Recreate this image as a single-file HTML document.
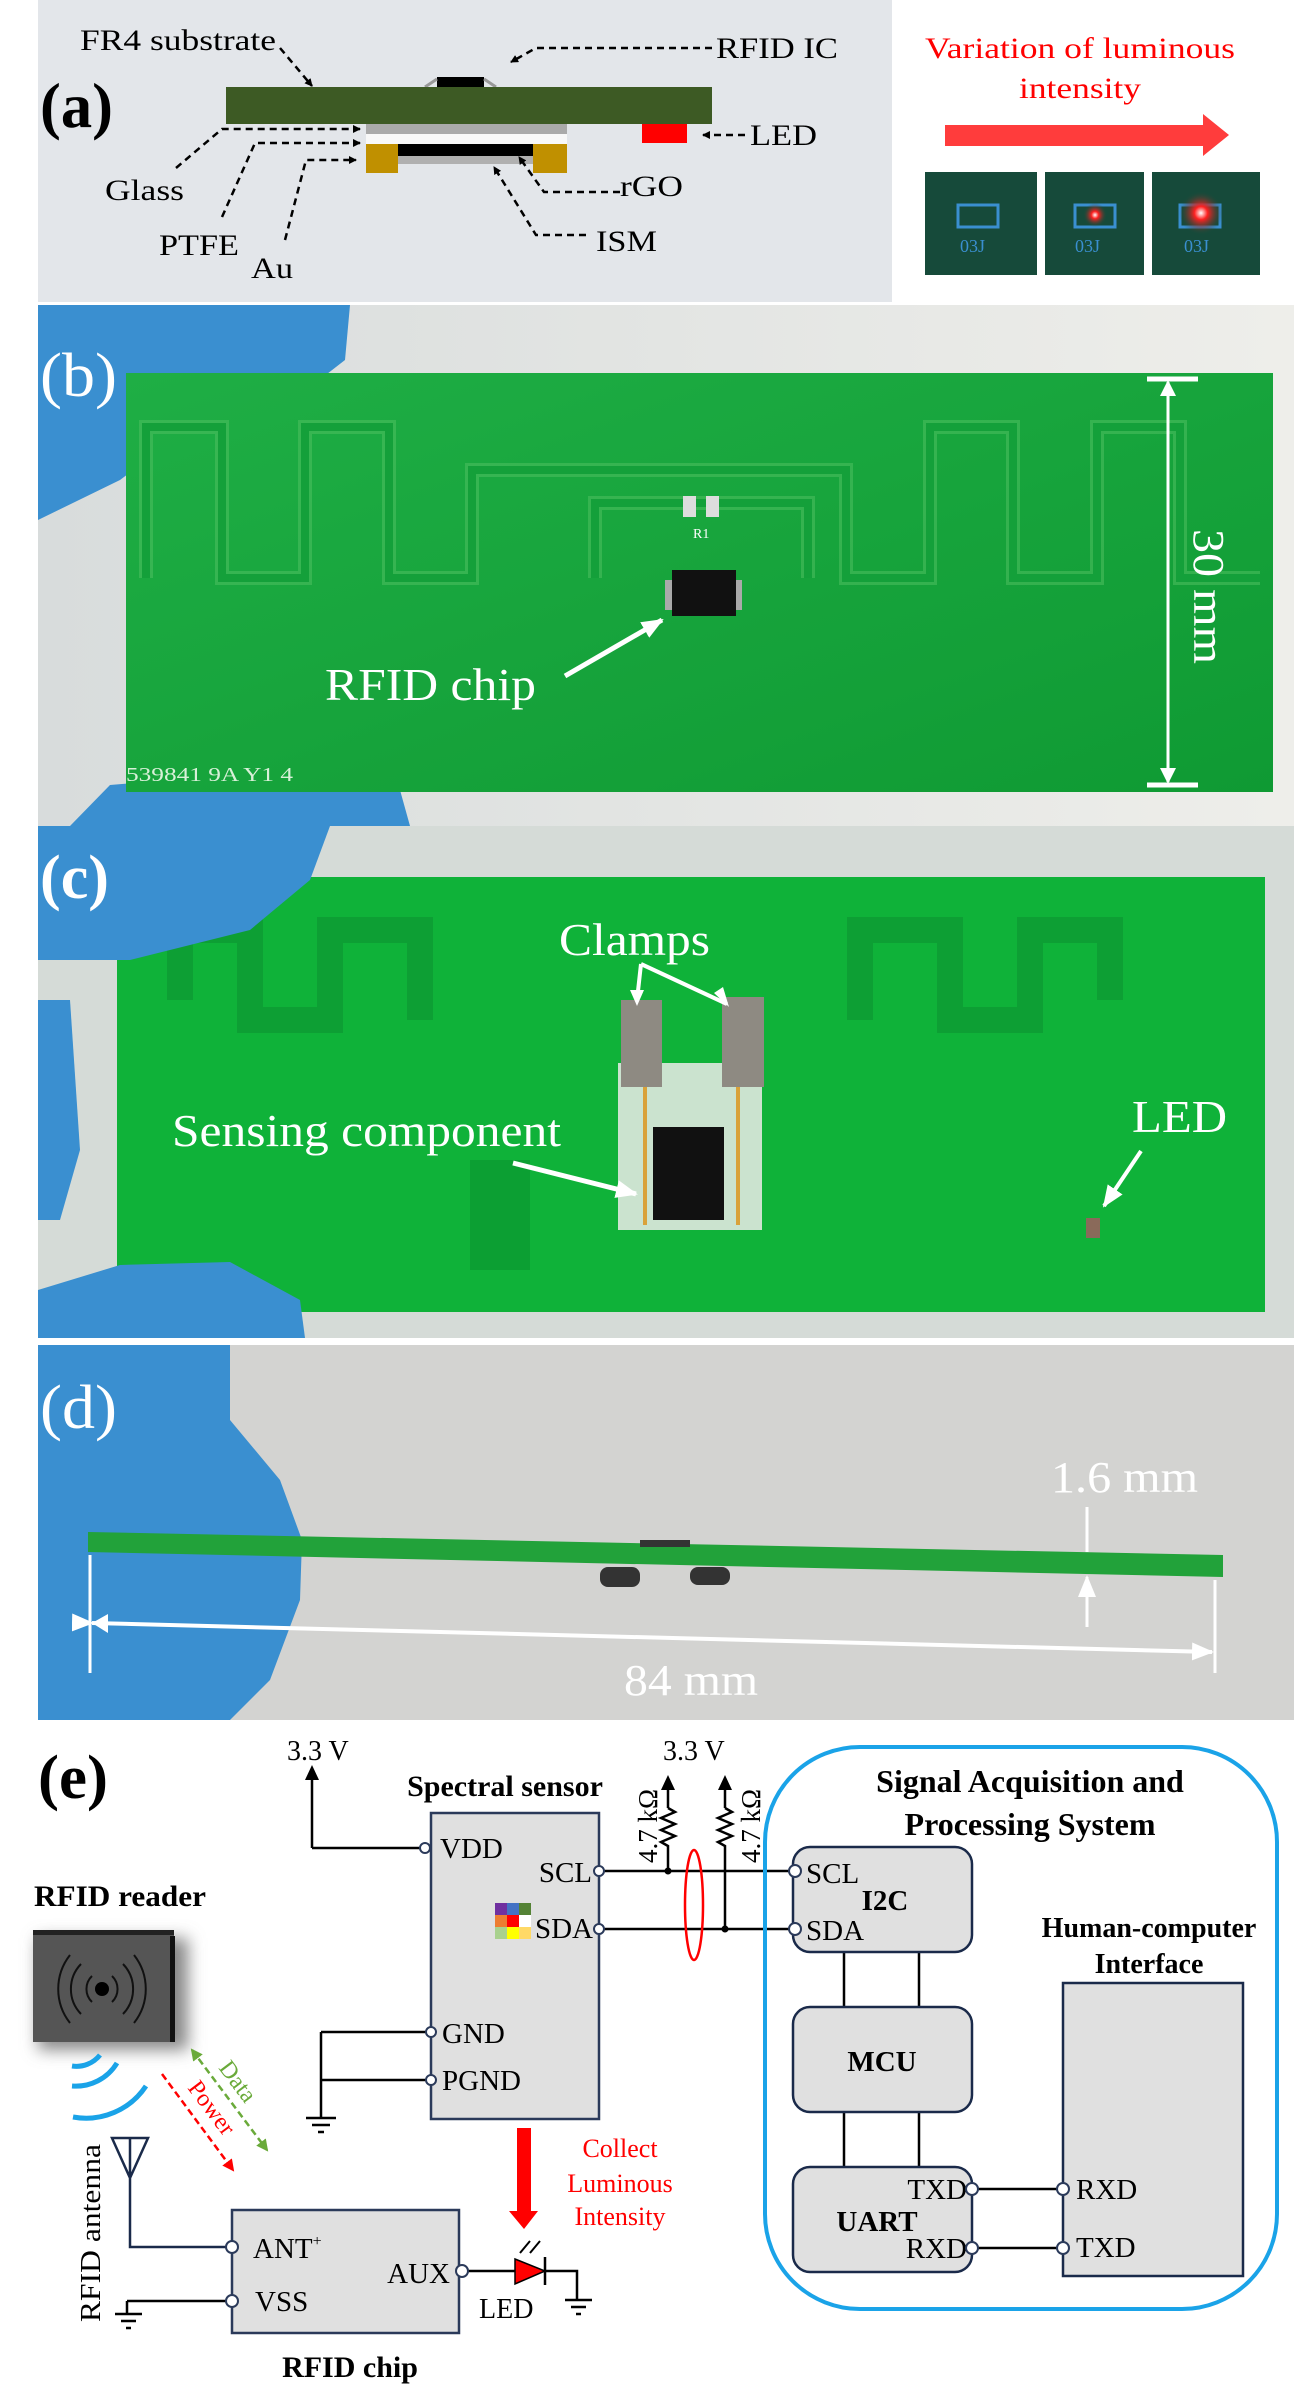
<!DOCTYPE html>
<html><head><meta charset="utf-8"><style>
html,body{margin:0;padding:0;background:#fff}
svg{display:block}
text{font-family:"Liberation Serif",serif}
</style></head><body>
<svg width="1294" height="2398" viewBox="0 0 1294 2398" xmlns="http://www.w3.org/2000/svg">
<defs>
<marker id="ab" markerWidth="8" markerHeight="8" refX="7" refY="4" orient="auto" markerUnits="userSpaceOnUse"><path d="M0,0 L8,4 L0,8 Z" fill="#000"/></marker>
<marker id="aw" markerWidth="22" markerHeight="18" refX="20" refY="9" orient="auto" markerUnits="userSpaceOnUse"><path d="M0,0 L22,9 L0,18 Z" fill="#fff"/></marker>
<marker id="ag" markerWidth="12" markerHeight="12" refX="10" refY="6" orient="auto" markerUnits="userSpaceOnUse"><path d="M0,0 L12,6 L0,12 Z" fill="#6aaa3a"/></marker>
<marker id="agr" markerWidth="12" markerHeight="12" refX="2" refY="6" orient="auto" markerUnits="userSpaceOnUse"><path d="M12,0 L0,6 L12,12 Z" fill="#6aaa3a"/></marker>
<marker id="ar" markerWidth="12" markerHeight="12" refX="10" refY="6" orient="auto" markerUnits="userSpaceOnUse"><path d="M0,0 L12,6 L0,12 Z" fill="#f00"/></marker>
<linearGradient id="gb" x1="0" y1="0" x2="1" y2="1"><stop offset="0" stop-color="#1fae45"/><stop offset="1" stop-color="#0f9a33"/></linearGradient>
<linearGradient id="bgb" x1="0" y1="0" x2="1" y2="0"><stop offset="0" stop-color="#d8dcdc"/><stop offset="1" stop-color="#eeeeea"/></linearGradient>
<radialGradient id="led2"><stop offset="0" stop-color="#fff"/><stop offset="0.3" stop-color="#ff2020"/><stop offset="1" stop-color="#164a3a" stop-opacity="0"/></radialGradient>
<filter id="sh" x="-30%" y="-30%" width="160%" height="160%"><feGaussianBlur stdDeviation="8"/></filter>
</defs>

<!-- ========== (a) ========== -->
<rect x="38" y="0" width="854" height="302" fill="#e3e6ea"/>
<text x="40" y="127" font-size="64" font-weight="bold" textLength="73" lengthAdjust="spacingAndGlyphs">(a)</text>
<text x="80" y="50" font-size="30" textLength="196" lengthAdjust="spacingAndGlyphs">FR4 substrate</text>
<path d="M280,48 L312,86" stroke="#000" stroke-width="2.5" stroke-dasharray="7,5" fill="none" marker-end="url(#ab)"/>
<rect x="437" y="77" width="47" height="10" fill="#000"/>
<path d="M425,87 L437,79 M484,79 L496,87" stroke="#999" stroke-width="3"/>
<rect x="226" y="87" width="486" height="37" fill="#3d5a24"/>
<text x="716" y="58" font-size="30" textLength="122" lengthAdjust="spacingAndGlyphs">RFID IC</text>
<path d="M712,48 L536,48 L511,62" stroke="#000" stroke-width="2.5" stroke-dasharray="7,5" fill="none" marker-end="url(#ab)"/>
<rect x="642" y="124" width="45" height="19" fill="#f00"/>
<text x="750" y="145" font-size="30" textLength="67" lengthAdjust="spacingAndGlyphs">LED</text>
<path d="M745,135 L703,135" stroke="#000" stroke-width="2.5" stroke-dasharray="7,5" marker-end="url(#ab)"/>
<rect x="366" y="124" width="201" height="10" fill="#aaa"/>
<rect x="366" y="134" width="201" height="10" fill="#f8f8f8"/>
<rect x="366" y="144" width="32" height="29" fill="#c09000"/>
<rect x="533" y="144" width="34" height="29" fill="#c09000"/>
<rect x="398" y="144" width="135" height="12" fill="#000"/>
<rect x="398" y="156" width="135" height="8" fill="#b0b0b0"/>
<g stroke="#000" stroke-width="2.5" stroke-dasharray="7,5" fill="none">
<path d="M176,168 L222,129 L360,129" marker-end="url(#ab)"/>
<path d="M222,217 L255,143 L360,143" marker-end="url(#ab)"/>
<path d="M285,240 L306,160 L356,160" marker-end="url(#ab)"/>
<path d="M620,192 L544,192 L519,157" marker-end="url(#ab)"/>
<path d="M586,235 L536,235 L494,167" marker-end="url(#ab)"/>
</g>
<text x="105" y="200" font-size="30" textLength="79" lengthAdjust="spacingAndGlyphs">Glass</text>
<text x="159" y="255" font-size="30" textLength="80" lengthAdjust="spacingAndGlyphs">PTFE</text>
<text x="251" y="278" font-size="30" textLength="42" lengthAdjust="spacingAndGlyphs">Au</text>
<text x="620" y="196" font-size="30" textLength="63" lengthAdjust="spacingAndGlyphs">rGO</text>
<text x="596" y="251" font-size="30" textLength="61" lengthAdjust="spacingAndGlyphs">ISM</text>
<text x="1080" y="58" font-size="30" fill="#f00" text-anchor="middle" textLength="310" lengthAdjust="spacingAndGlyphs">Variation of luminous</text>
<text x="1080" y="98" font-size="30" fill="#f00" text-anchor="middle" textLength="122" lengthAdjust="spacingAndGlyphs">intensity</text>
<path d="M945,125 L1203,125 L1203,114 L1229,135 L1203,156 L1203,146 L945,146 Z" fill="#ff3c3c"/>
<rect x="925" y="172" width="112" height="103" fill="#164a3a"/>
<rect x="1045" y="172" width="99" height="103" fill="#164a3a"/>
<rect x="1152" y="172" width="108" height="103" fill="#164a3a"/>
<g fill="none" stroke="#3a8fd0" stroke-width="3"><rect x="958" y="205" width="40" height="22"/><rect x="1075" y="205" width="40" height="22"/><rect x="1180" y="205" width="40" height="22"/></g>
<circle cx="1095" cy="215" r="12" fill="url(#led2)"/>
<circle cx="1201" cy="213" r="22" fill="url(#led2)"/>
<g fill="#3a8fd0" font-size="18" font-family="Liberation Sans,sans-serif"><text x="960" y="252">03J</text><text x="1075" y="252">03J</text><text x="1184" y="252">03J</text></g>

<!-- ========== (b) ========== -->
<rect x="38" y="305" width="1256" height="521" fill="url(#bgb)"/>
<path d="M38,305 L350,305 L345,360 L300,395 L200,420 L120,480 L38,520 Z" fill="#3a8fd0"/>
<path d="M70,826 L110,785 L230,775 L400,790 L410,826 Z" fill="#3a8fd0"/>
<rect x="126" y="373" width="1147" height="419" fill="url(#gb)"/>
<g fill="none" stroke="#4ec060" stroke-width="14" opacity="0.55">
<path d="M146,578 V427 H222 V578 H305 V427 H389 V578 H472 V470 H846 V578 H930 V427 H1013 V578 H1097 V427 H1180 V578 H1260"/>
<path d="M595,578 V503 H808 V578"/>
</g>
<g fill="none" stroke="#14a03a" stroke-width="8">
<path d="M146,578 V427 H222 V578 H305 V427 H389 V578 H472 V470 H846 V578 H930 V427 H1013 V578 H1097 V427 H1180 V578 H1260"/>
<path d="M595,578 V503 H808 V578"/>
</g>
<rect x="683" y="496" width="13" height="21" fill="#ddd"/><rect x="706" y="496" width="13" height="21" fill="#ddd"/>
<text x="693" y="538" font-size="14" fill="#fff" font-family="Liberation Sans,sans-serif">R1</text>
<rect x="665" y="580" width="10" height="30" fill="#aaa"/><rect x="732" y="580" width="10" height="30" fill="#aaa"/>
<rect x="672" y="570" width="64" height="46" fill="#111"/>
<text x="325" y="700" font-size="46" fill="#fff" textLength="211" lengthAdjust="spacingAndGlyphs">RFID chip</text>
<path d="M565,676 L662,620" stroke="#fff" stroke-width="5" marker-end="url(#aw)"/>
<text x="40" y="396" font-size="62" fill="#fff" textLength="77" lengthAdjust="spacingAndGlyphs">(b)</text>
<path d="M1168,382 V782" stroke="#fff" stroke-width="3"/>
<path d="M1147,379 H1198 M1147,785 H1198" stroke="#fff" stroke-width="5"/>
<path d="M1160,396 L1168,380 L1176,396 Z M1160,768 L1168,784 L1176,768 Z" fill="#fff"/>
<text transform="translate(1194,529) rotate(90)" font-size="44" fill="#fff" textLength="135" lengthAdjust="spacingAndGlyphs">30 mm</text>
<text x="126" y="781" font-size="20" fill="#d8f0d8" font-family="Liberation Sans,sans-serif" textLength="167" lengthAdjust="spacingAndGlyphs">539841 9A  Y1 4</text>

<!-- ========== (c) ========== -->
<rect x="38" y="826" width="1256" height="512" fill="#d5dbd7"/>
<rect x="117" y="877" width="1148" height="435" fill="#0fb239"/>
<g fill="none" stroke="#0b7a2a" stroke-width="26" opacity="0.35">
<path d="M180,1000 V930 H250 V1020 H330 V930 H420 V1020 M860,1020 V930 H950 V1020 H1030 V930 H1110 V1000"/>
</g>
<rect x="470" y="1160" width="60" height="110" fill="#0a7a28" opacity="0.35"/>
<path d="M38,826 L330,826 L310,880 L250,930 L130,960 L38,960 Z" fill="#3a8fd0"/>
<path d="M38,1000 L70,1000 L80,1150 L60,1220 L38,1220 Z" fill="#3a8fd0"/>
<path d="M38,1338 L38,1290 L120,1265 L230,1262 L300,1300 L305,1338 Z" fill="#3a8fd0"/>
<rect x="618" y="1063" width="144" height="167" fill="#cbe3cf"/>
<rect x="653" y="1127" width="71" height="93" fill="#111"/>
<path d="M645,1087 V1225 M738,1087 V1225" stroke="#d9a23a" stroke-width="4"/>
<rect x="621" y="1000" width="41" height="87" fill="#8e8a82"/>
<rect x="722" y="997" width="42" height="90" fill="#8e8a82"/>
<text x="559" y="955" font-size="46" fill="#fff" textLength="151" lengthAdjust="spacingAndGlyphs">Clamps</text>
<path d="M641,964 L637,1000 M641,964 L727,1004" stroke="#fff" stroke-width="4" fill="none"/>
<path d="M630,990 L637,1006 L644,990 Z" fill="#fff"/><path d="M714,993 L729,1007 L723,987 Z" fill="#fff"/>
<text x="172" y="1146" font-size="46" fill="#fff" textLength="389" lengthAdjust="spacingAndGlyphs">Sensing component</text>
<path d="M513,1163 L636,1194" stroke="#fff" stroke-width="5" marker-end="url(#aw)"/>
<text x="1132" y="1132" font-size="46" fill="#fff" textLength="95" lengthAdjust="spacingAndGlyphs">LED</text>
<path d="M1141,1151 L1104,1206" stroke="#fff" stroke-width="4" marker-end="url(#aw)"/>
<rect x="1086" y="1218" width="14" height="20" fill="#8a6a5a"/>
<text x="40" y="898" font-size="62" font-weight="bold" fill="#fff" textLength="69" lengthAdjust="spacingAndGlyphs">(c)</text>

<!-- ========== (d) ========== -->
<rect x="38" y="1345" width="1256" height="375" fill="#d3d3d1"/>
<path d="M38,1345 L230,1345 L230,1420 L280,1480 L302,1540 L300,1600 L270,1680 L230,1720 L38,1720 Z" fill="#3a8fd0"/>
<path d="M88,1532 L1223,1555 L1223,1577 L88,1552 Z" fill="#22a23a"/>
<rect x="640" y="1540" width="50" height="7" fill="#333"/>
<rect x="600" y="1567" width="40" height="20" rx="8" fill="#333"/><rect x="690" y="1567" width="40" height="18" rx="8" fill="#333"/>
<text x="40" y="1428" font-size="62" fill="#fff" textLength="77" lengthAdjust="spacingAndGlyphs">(d)</text>
<text x="1051" y="1492" font-size="44" fill="#fff" textLength="147" lengthAdjust="spacingAndGlyphs">1.6 mm</text>
<path d="M1087,1507 V1552 M1087,1627 V1577" stroke="#fff" stroke-width="3" fill="none" marker-end="url(#aw)"/>
<path d="M90,1555 V1673 M1215,1580 V1673" stroke="#fff" stroke-width="3"/>
<path d="M92,1623 L1212,1652" stroke="#fff" stroke-width="4" marker-end="url(#aw)" marker-start="url(#aw)"/>
<path d="M108,1614 L92,1623 L108,1633 Z" fill="#fff"/>
<text x="624" y="1695" font-size="44" fill="#fff" textLength="134" lengthAdjust="spacingAndGlyphs">84 mm</text>

<!-- ========== (e) ========== -->
<text x="38" y="1798" font-size="62" font-weight="bold" textLength="70" lengthAdjust="spacingAndGlyphs">(e)</text>
<text x="287" y="1760" font-size="28">3.3 V</text>
<path d="M312,1848 V1774" stroke="#000" stroke-width="2.5"/><path d="M305,1780 L312,1765 L319,1780 Z"/>
<path d="M312,1848 H425" stroke="#000" stroke-width="2.5"/>
<text x="505" y="1796" font-size="30" font-weight="bold" text-anchor="middle">Spectral sensor</text>
<rect x="431" y="1813" width="168" height="306" fill="#e0e0e0" stroke="#2b3a5a" stroke-width="2.5"/>
<text x="440" y="1858" font-size="29">VDD</text>
<text x="592" y="1882" font-size="29" text-anchor="end">SCL</text>
<text x="593" y="1938" font-size="29" text-anchor="end">SDA</text>
<text x="442" y="2043" font-size="29">GND</text>
<text x="442" y="2090" font-size="29">PGND</text>
<g>
<rect x="495" y="1903" width="12" height="12" fill="#7030a0"/><rect x="507" y="1903" width="12" height="12" fill="#4472c4"/><rect x="519" y="1903" width="12" height="12" fill="#548235"/>
<rect x="495" y="1915" width="12" height="12" fill="#ed7d31"/><rect x="507" y="1915" width="12" height="12" fill="#f00"/><rect x="519" y="1915" width="12" height="12" fill="#fff"/>
<rect x="495" y="1927" width="12" height="12" fill="#a9d18e"/><rect x="507" y="1927" width="12" height="12" fill="#ff0"/><rect x="519" y="1927" width="12" height="12" fill="#ffd966"/>
</g>
<path d="M321,2032 H431 M321,2080 H431 M321,2032 V2118" stroke="#000" stroke-width="2.5" fill="none"/>
<path d="M306,2118 H336 M312,2125 H330 M318,2132 H324" stroke="#000" stroke-width="2.5"/>
<!-- I2C lines -->
<path d="M599,1871 H795 M599,1929 H795" stroke="#000" stroke-width="2.5"/>
<path d="M661,1790 L668,1775 L675,1790 Z M718,1790 L725,1775 L732,1790 Z"/>
<path d="M668,1783 V1808 M725,1783 V1808" stroke="#000" stroke-width="2.5" fill="none"/>
<path d="M668,1808 l7,4 l-14,6 l14,6 l-14,6 l14,6 l-14,6 l7,4 V1871 M725,1808 l7,4 l-14,6 l14,6 l-14,6 l14,6 l-14,6 l7,4 V1929" stroke="#000" stroke-width="2.5" fill="none"/>
<circle cx="668" cy="1871" r="3.5"/><circle cx="725" cy="1929" r="3.5"/>
<text x="663" y="1760" font-size="28">3.3 V</text>
<text transform="translate(657,1863) rotate(-90)" font-size="27">4.7 kΩ</text>
<text transform="translate(760,1863) rotate(-90)" font-size="27">4.7 kΩ</text>
<ellipse cx="694" cy="1905" rx="9" ry="55" fill="none" stroke="#f00" stroke-width="2.5"/>
<!-- reader -->
<text x="34" y="1906" font-size="30" font-weight="bold" textLength="172" lengthAdjust="spacingAndGlyphs">RFID reader</text>
<rect x="38" y="1938" width="150" height="112" fill="#888" filter="url(#sh)"/>
<rect x="33" y="1933" width="141" height="109" fill="#555"/>
<rect x="170" y="1936" width="5" height="106" fill="#111"/><rect x="33" y="1930" width="141" height="5" fill="#222"/>
<circle cx="102" cy="1989" r="7"/>
<g fill="none" stroke="#111" stroke-width="2">
<path d="M92,1976 A18,18 0 0 0 92,2002 M112,1976 A18,18 0 0 1 112,2002"/>
<path d="M81,1964 A36,36 0 0 0 81,2014 M123,1964 A36,36 0 0 1 123,2014"/>
<path d="M70,1955 A55,55 0 0 0 70,2023 M134,1955 A55,55 0 0 1 134,2023"/>
</g>
<g fill="none" stroke="#1aa3e8" stroke-width="5">
<path d="M72,2066 A30,30 0 0 0 100,2055"/>
<path d="M72,2086 A48,48 0 0 0 117,2063"/>
<path d="M73,2117 A72,72 0 0 0 146,2086"/>
</g>
<path d="M192,2050 L267,2150" stroke="#6aaa3a" stroke-width="2.5" stroke-dasharray="7,4" marker-end="url(#ag)" marker-start="url(#agr)"/>
<path d="M162,2074 L233,2170" stroke="#f00" stroke-width="2.5" stroke-dasharray="7,4" marker-end="url(#ar)"/>
<text transform="translate(218,2068) rotate(53)" font-size="24" fill="#6aaa3a">Data</text>
<text transform="translate(187,2088) rotate(53)" font-size="24" fill="#f00">Power</text>
<path d="M112,2138 H148 L130,2178 Z M130,2138 V2247 H232" stroke="#1a2a4a" stroke-width="2.5" fill="none"/>
<text transform="translate(100,2322) rotate(-90)" font-size="28" textLength="178" lengthAdjust="spacingAndGlyphs">RFID antenna</text>
<rect x="232" y="2210" width="227" height="123" fill="#e0e0e0" stroke="#2b3a5a" stroke-width="2.5"/>
<text x="253" y="2258" font-size="29">ANT<tspan font-size="16" dy="-12">+</tspan></text>
<text x="255" y="2311" font-size="29">VSS</text>
<text x="450" y="2283" font-size="29" text-anchor="end">AUX</text>
<path d="M127,2301 H232 M127,2301 V2314" stroke="#000" stroke-width="2.5" fill="none"/>
<path d="M115,2314 H142 M121,2321 H136 M126,2328 H131" stroke="#000" stroke-width="2.5"/>
<path d="M462,2271 H515 M545,2271 H577 V2300" stroke="#000" stroke-width="2.5" fill="none"/>
<path d="M515,2259 L545,2271 L515,2284 Z" fill="#f00" stroke="#000" stroke-width="1.5"/>
<path d="M545,2257 V2285" stroke="#000" stroke-width="2.5"/>
<path d="M520,2253 L530,2241 M530,2253 L540,2241" stroke="#000" stroke-width="2"/>
<path d="M565,2300 H592 M571,2307 H586 M576,2314 H581" stroke="#000" stroke-width="2.5"/>
<text x="479" y="2318" font-size="28">LED</text>
<text x="350" y="2377" font-size="30" font-weight="bold" text-anchor="middle">RFID chip</text>
<path d="M517,2128 H531 V2211 H538 L524,2229 L509,2211 H517 Z" fill="#f00"/>
<g font-size="26" fill="#f00" text-anchor="middle"><text x="620" y="2157">Collect</text><text x="620" y="2192">Luminous</text><text x="620" y="2225">Intensity</text></g>
<!-- circles -->
<g fill="#fff" stroke="#2b3a5a" stroke-width="2">
<circle cx="425" cy="1848" r="5"/><circle cx="599" cy="1871" r="5"/><circle cx="599" cy="1929" r="5"/>
<circle cx="431" cy="2032" r="5"/><circle cx="431" cy="2080" r="5"/>
<circle cx="232" cy="2247" r="6"/><circle cx="232" cy="2301" r="6"/><circle cx="462" cy="2271" r="6"/>
</g>
<!-- system -->
<rect x="765" y="1747" width="512" height="562" rx="95" fill="none" stroke="#1aa3e8" stroke-width="4"/>
<text x="1030" y="1792" font-size="32" font-weight="bold" text-anchor="middle">Signal Acquisition and</text>
<text x="1030" y="1835" font-size="32" font-weight="bold" text-anchor="middle">Processing System</text>
<path d="M844,1952 V2007 M919,1952 V2007 M844,2112 V2167 M919,2112 V2167" stroke="#000" stroke-width="2.5"/>
<g fill="#e0e0e0" stroke="#1a2a4a" stroke-width="2.5">
<rect x="793" y="1847" width="179" height="105" rx="17"/>
<rect x="793" y="2007" width="179" height="105" rx="17"/>
<rect x="793" y="2167" width="179" height="105" rx="17"/>
<rect x="1063" y="1983" width="180" height="293"/>
</g>
<text x="806" y="1883" font-size="29">SCL</text>
<text x="806" y="1940" font-size="29">SDA</text>
<text x="885" y="1910" font-size="29" font-weight="bold" text-anchor="middle">I2C</text>
<text x="882" y="2071" font-size="29" font-weight="bold" text-anchor="middle">MCU</text>
<text x="877" y="2231" font-size="29" font-weight="bold" text-anchor="middle">UART</text>
<text x="967" y="2199" font-size="29" text-anchor="end">TXD</text>
<text x="967" y="2258" font-size="29" text-anchor="end">RXD</text>
<text x="1149" y="1937" font-size="28" font-weight="bold" text-anchor="middle">Human-computer</text>
<text x="1149" y="1973" font-size="28" font-weight="bold" text-anchor="middle">Interface</text>
<text x="1076" y="2199" font-size="29">RXD</text>
<text x="1076" y="2257" font-size="29">TXD</text>
<path d="M972,2189 H1063 M972,2248 H1063" stroke="#000" stroke-width="2.5"/>
<g fill="#fff" stroke="#2b3a5a" stroke-width="2">
<circle cx="795" cy="1871" r="6"/><circle cx="795" cy="1929" r="6"/>
<circle cx="972" cy="2189" r="6"/><circle cx="972" cy="2248" r="6"/>
<circle cx="1063" cy="2189" r="6"/><circle cx="1063" cy="2248" r="6"/>
</g>
</svg>
</body></html>
